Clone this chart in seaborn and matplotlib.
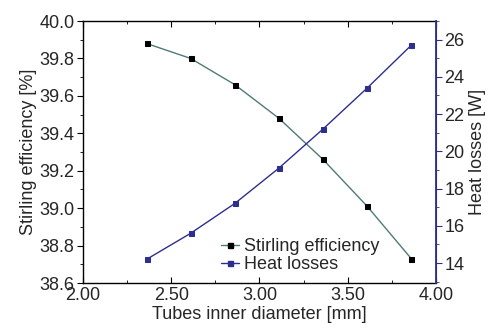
import matplotlib
matplotlib.use("Agg")
import matplotlib.pyplot as plt
import seaborn as sns
import pandas as pd
from matplotlib.ticker import MultipleLocator, FormatStrFormatter
from matplotlib.lines import Line2D

diameter = [2.36, 2.61, 2.86, 3.11, 3.36, 3.61, 3.86]
efficiency = [39.88, 39.80, 39.66, 39.48, 39.26, 39.01, 38.73]
heat_losses = [14.2, 15.6, 17.2, 19.1, 21.2, 23.4, 25.7]

df = pd.DataFrame({"d": diameter, "eff": efficiency, "heat": heat_losses})

sns.set_style("white")
plt.rcParams["font.family"] = ["Liberation Sans", "DejaVu Sans"]

fig = plt.figure(figsize=(4.89, 3.29), dpi=100)
ax = fig.add_axes([83/489, 1-283/329, (436-83)/489, (283-21)/329])
ax2 = ax.twinx()

eff_line = "#4f7a78"
navy = "#2e2e8f"

sns.lineplot(data=df, x="d", y="eff", ax=ax, color=eff_line, lw=1.0,
             marker="s", markersize=3.6, markerfacecolor="black",
             markeredgecolor="black")
sns.lineplot(data=df, x="d", y="heat", ax=ax2, color=navy, lw=1.0,
             marker="s", markersize=3.6, markerfacecolor=navy,
             markeredgecolor=navy)

ax.set_xlim(2.0, 4.0)
ax.set_ylim(38.6, 40.0)
ax2.set_ylim(12.93, 27.0)

ax.xaxis.set_major_locator(MultipleLocator(0.5))
ax.xaxis.set_minor_locator(MultipleLocator(0.25))
ax.xaxis.set_major_formatter(FormatStrFormatter("%.2f"))
ax.yaxis.set_major_locator(MultipleLocator(0.2))
ax.yaxis.set_minor_locator(MultipleLocator(0.1))
ax.yaxis.set_major_formatter(FormatStrFormatter("%.1f"))
ax2.yaxis.set_major_locator(MultipleLocator(2))
ax2.yaxis.set_minor_locator(MultipleLocator(1))

fs = 13
ax.set_xlabel("Tubes inner diameter [mm]", fontsize=fs, labelpad=1)
ax.set_ylabel("Stirling efficiency [%]", fontsize=fs, labelpad=2)
ax2.set_ylabel("Heat losses [W]", fontsize=fs, labelpad=3)

for s in ["left", "bottom", "top"]:
    ax.spines[s].set_color("black")
    ax.spines[s].set_linewidth(1.0)
ax2.spines["right"].set_color(navy)
ax2.spines["right"].set_linewidth(1.3)
for s in ["left", "bottom", "top"]:
    ax2.spines[s].set_visible(False)

ax.tick_params(axis="x", which="both", direction="in", top=True, bottom=True,
               labelsize=fs, pad=3, color="black")
ax.tick_params(axis="x", which="major", length=4)
ax.tick_params(axis="x", which="minor", length=2.5)
ax.tick_params(axis="y", which="both", direction="out", left=True, right=False,
               labelsize=fs, pad=2, color="black")
ax.tick_params(axis="y", which="major", length=4)
ax.tick_params(axis="y", which="minor", length=2.5)
ax2.tick_params(axis="y", which="both", direction="out", right=True,
                labelsize=fs, pad=2, color=navy)
ax2.tick_params(axis="y", which="major", length=4)
ax2.tick_params(axis="y", which="minor", length=2.5)

handles = [
    Line2D([], [], color=eff_line, lw=1.0, marker="s", markersize=3.6,
           markerfacecolor="black", markeredgecolor="black"),
    Line2D([], [], color=navy, lw=1.0, marker="s", markersize=3.6,
           markerfacecolor=navy, markeredgecolor=navy),
]
ax.legend(handles, ["Stirling efficiency", "Heat losses"], loc="lower left",
          bbox_to_anchor=(0.355, -0.01), frameon=False, fontsize=fs,
          handlelength=1.0, handletextpad=0.3, labelspacing=0.05,
          borderaxespad=0.3)

fig.savefig("out.png", dpi=100)
